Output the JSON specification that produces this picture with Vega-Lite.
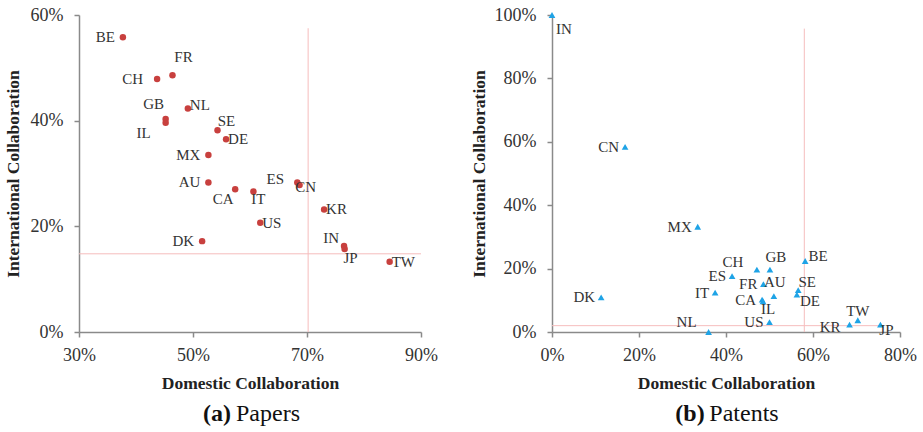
{
  "$schema": "https://vega.github.io/schema/vega-lite/v6.json",
  "padding": {"left": 4, "top": 6, "right": 2, "bottom": 2},
  "spacing": 32,
  "config": {
    "view": {"stroke": null},
    "font": "Liberation Serif, Times New Roman, serif",
    "axis": {"grid": false, "domainColor": "#8a8a8a", "domainWidth": 1.5, "tickColor": "#8a8a8a", "tickWidth": 1.5, "tickSize": 5, "labelFont": "Liberation Serif, Times New Roman, serif", "labelFontSize": 18, "labelColor": "#333333", "titleFont": "Liberation Serif, Times New Roman, serif", "titleFontSize": 17.5, "titleFontWeight": "bold", "titleColor": "#222222"},
    "axisX": {"labelPadding": 9, "titlePadding": 10, "labelFlush": false},
    "axisY": {"labelPadding": 11, "titlePadding": 8},
    "text": {"font": "Liberation Serif, Times New Roman, serif", "fontSize": 15, "color": "#333333", "baseline": "middle"}
  },
  "datasets": {
    "papers": [
      {"c": "BE", "x": 37.7, "y": 55.8},
      {"c": "FR", "x": 46.4, "y": 48.6},
      {"c": "CH", "x": 43.7, "y": 47.9},
      {"c": "NL", "x": 49.1, "y": 42.3},
      {"c": "GB", "x": 45.2, "y": 40.3},
      {"c": "IL", "x": 45.2, "y": 39.6},
      {"c": "SE", "x": 54.3, "y": 38.2},
      {"c": "DE", "x": 55.8, "y": 36.5},
      {"c": "MX", "x": 52.7, "y": 33.5},
      {"c": "AU", "x": 52.7, "y": 28.3},
      {"c": "CA", "x": 57.4, "y": 27.0},
      {"c": "IT", "x": 60.6, "y": 26.6},
      {"c": "ES", "x": 68.3, "y": 28.3},
      {"c": "CN", "x": 68.7, "y": 27.8},
      {"c": "KR", "x": 73.0, "y": 23.2},
      {"c": "US", "x": 61.8, "y": 20.7},
      {"c": "DK", "x": 51.6, "y": 17.2},
      {"c": "IN", "x": 76.5, "y": 16.3},
      {"c": "JP", "x": 76.6, "y": 15.7},
      {"c": "TW", "x": 84.5, "y": 13.3}
    ],
    "papersRef": [
      {"x": 70.2, "y": 0, "x2": 70.2, "y2": 57.5},
      {"x": 30, "y": 14.8, "x2": 90, "y2": 14.8}
    ],
    "patents": [
      {"c": "IN", "x": 0.0, "y": 100},
      {"c": "CN", "x": 16.8, "y": 58.4},
      {"c": "MX", "x": 33.5, "y": 33.2},
      {"c": "BE", "x": 58.2, "y": 22.4},
      {"c": "CH", "x": 47.1, "y": 19.7},
      {"c": "GB", "x": 50.1, "y": 19.7},
      {"c": "ES", "x": 41.4, "y": 17.6},
      {"c": "IT", "x": 37.5, "y": 12.4},
      {"c": "FR", "x": 48.6, "y": 15.1},
      {"c": "AU", "x": 51.0, "y": 11.3},
      {"c": "SE", "x": 56.6, "y": 13.2},
      {"c": "DE", "x": 56.3, "y": 11.8},
      {"c": "CA", "x": 48.3, "y": 10.2},
      {"c": "IL", "x": 48.5, "y": 9.7},
      {"c": "US", "x": 50.0, "y": 3.1},
      {"c": "DK", "x": 11.3, "y": 10.9},
      {"c": "NL", "x": 36.0, "y": 0.0},
      {"c": "KR", "x": 68.4, "y": 2.3},
      {"c": "TW", "x": 70.3, "y": 3.7},
      {"c": "JP", "x": 75.5, "y": 2.3}
    ],
    "patentsRef": [
      {"x": 58.0, "y": 0, "x2": 58.0, "y2": 95.7},
      {"x": 0, "y": 2.0, "x2": 75.5, "y2": 2.0}
    ]
  },
  "hconcat": [
    {
      "width": 342,
      "height": 317,
      "data": {"name": "papers"},
      "title": {"text": "(a)\u00a0\u00a0\u00a0\u00a0\u00a0\u00a0\u00a0\u00a0\u00a0\u00a0\u00a0\u200b", "subtitle": "\u200b\u00a0\u00a0\u00a0\u00a0\u00a0\u00a0Papers", "orient": "bottom", "anchor": "middle", "frame": "group", "font": "Liberation Serif, Times New Roman, serif", "fontSize": 24, "fontWeight": "bold", "color": "#111111", "subtitleFont": "Liberation Serif, Times New Roman, serif", "subtitleFontSize": 24, "subtitleFontWeight": "normal", "subtitleColor": "#111111", "subtitlePadding": -24, "offset": 10},
      "encoding": {
        "x": {"field": "x", "type": "quantitative", "scale": {"domain": [30, 90], "nice": false, "zero": false}, "axis": {"values": [30, 50, 70, 90], "labelExpr": "datum.value + '%'", "title": "Domestic Collaboration"}},
        "y": {"field": "y", "type": "quantitative", "scale": {"domain": [0, 60], "nice": false}, "axis": {"values": [0, 20, 40, 60], "labelExpr": "datum.value + '%'", "title": "International Collaboration"}}
      },
      "layer": [
        {"data": {"name": "papersRef"}, "mark": {"type": "rule", "color": "#F6BDBD", "strokeWidth": 1}, "encoding": {"x2": {"field": "x2"}, "y2": {"field": "y2"}}},
        {"mark": {"type": "circle", "size": 42, "color": "#C8403E", "opacity": 1}},
        {
          "encoding": {"text": {"field": "c"}},
          "layer": [
            {"transform": [{"filter": {"field": "c", "oneOf": ["BE", "MX", "AU", "DK"]}}], "mark": {"type": "text", "align": "right", "dx": -8}},
            {"transform": [{"filter": {"field": "c", "oneOf": ["CH"]}}], "mark": {"type": "text", "align": "right", "dx": -14}},
            {"transform": [{"filter": {"field": "c", "oneOf": ["KR", "US", "TW", "DE"]}}], "mark": {"type": "text", "align": "left", "dx": 2}},
            {"transform": [{"filter": {"field": "c", "oneOf": ["NL"]}}], "mark": {"type": "text", "align": "left", "dx": 2, "dy": -4}},
            {"transform": [{"filter": {"field": "c", "oneOf": ["FR"]}}], "mark": {"type": "text", "align": "center", "dx": 11, "dy": -18}},
            {"transform": [{"filter": {"field": "c", "oneOf": ["GB"]}}], "mark": {"type": "text", "align": "center", "dx": -12, "dy": -15}},
            {"transform": [{"filter": {"field": "c", "oneOf": ["IL"]}}], "mark": {"type": "text", "align": "center", "dx": -22, "dy": 10}},
            {"transform": [{"filter": {"field": "c", "oneOf": ["SE"]}}], "mark": {"type": "text", "align": "center", "dx": 9, "dy": -9}},
            {"transform": [{"filter": {"field": "c", "oneOf": ["CA"]}}], "mark": {"type": "text", "align": "center", "dx": -12, "dy": 10}},
            {"transform": [{"filter": {"field": "c", "oneOf": ["IT"]}}], "mark": {"type": "text", "align": "center", "dx": 5, "dy": 8}},
            {"transform": [{"filter": {"field": "c", "oneOf": ["ES"]}}], "mark": {"type": "text", "align": "center", "dx": -22, "dy": -3}},
            {"transform": [{"filter": {"field": "c", "oneOf": ["CN"]}}], "mark": {"type": "text", "align": "center", "dx": 6, "dy": 2}},
            {"transform": [{"filter": {"field": "c", "oneOf": ["IN"]}}], "mark": {"type": "text", "align": "center", "dx": -13, "dy": -8}},
            {"transform": [{"filter": {"field": "c", "oneOf": ["JP"]}}], "mark": {"type": "text", "align": "center", "dx": 6, "dy": 9}}
          ]
        }
      ]
    },
    {
      "width": 348,
      "height": 317,
      "data": {"name": "patents"},
      "title": {"text": "(b)\u00a0\u00a0\u00a0\u00a0\u00a0\u00a0\u00a0\u00a0\u00a0\u00a0\u00a0\u00a0\u200b", "subtitle": "\u200b\u00a0\u00a0\u00a0\u00a0\u00a0\u00a0Patents", "orient": "bottom", "anchor": "middle", "frame": "group", "font": "Liberation Serif, Times New Roman, serif", "fontSize": 24, "fontWeight": "bold", "color": "#111111", "subtitleFont": "Liberation Serif, Times New Roman, serif", "subtitleFontSize": 24, "subtitleFontWeight": "normal", "subtitleColor": "#111111", "subtitlePadding": -24, "offset": 10},
      "encoding": {
        "x": {"field": "x", "type": "quantitative", "scale": {"domain": [0, 80], "nice": false}, "axis": {"values": [0, 20, 40, 60, 80], "labelExpr": "datum.value + '%'", "title": "Domestic Collaboration"}},
        "y": {"field": "y", "type": "quantitative", "scale": {"domain": [0, 100], "nice": false}, "axis": {"values": [0, 20, 40, 60, 80, 100], "labelExpr": "datum.value + '%'", "title": "International Collaboration", "labelPadding": 11, "titlePadding": 6}}
      },
      "layer": [
        {"data": {"name": "patentsRef"}, "mark": {"type": "rule", "color": "#F6BDBD", "strokeWidth": 1}, "encoding": {"x2": {"field": "x2"}, "y2": {"field": "y2"}}},
        {"mark": {"type": "point", "shape": "triangle-up", "size": 45, "filled": true, "color": "#1EA3E6", "opacity": 1}},
        {
          "encoding": {"text": {"field": "c"}},
          "layer": [
            {"transform": [{"filter": {"field": "c", "oneOf": ["CN", "MX", "ES", "IT", "FR", "CA", "US", "DK"]}}], "mark": {"type": "text", "align": "right", "dx": -6}},
            {"transform": [{"filter": {"field": "c", "oneOf": ["KR"]}}], "mark": {"type": "text", "align": "right", "dx": -9, "dy": 2}},
            {"transform": [{"filter": {"field": "c", "oneOf": ["IN"]}}], "mark": {"type": "text", "align": "center", "dx": 12, "dy": 14}},
            {"transform": [{"filter": {"field": "c", "oneOf": ["BE"]}}], "mark": {"type": "text", "align": "center", "dx": 13, "dy": -5}},
            {"transform": [{"filter": {"field": "c", "oneOf": ["CH"]}}], "mark": {"type": "text", "align": "center", "dx": -24, "dy": -8}},
            {"transform": [{"filter": {"field": "c", "oneOf": ["GB"]}}], "mark": {"type": "text", "align": "center", "dx": 6, "dy": -13}},
            {"transform": [{"filter": {"field": "c", "oneOf": ["AU"]}}], "mark": {"type": "text", "align": "center", "dx": 1, "dy": -14}},
            {"transform": [{"filter": {"field": "c", "oneOf": ["SE"]}}], "mark": {"type": "text", "align": "center", "dx": 9, "dy": -8}},
            {"transform": [{"filter": {"field": "c", "oneOf": ["DE"]}}], "mark": {"type": "text", "align": "center", "dx": 13, "dy": 6}},
            {"transform": [{"filter": {"field": "c", "oneOf": ["IL"]}}], "mark": {"type": "text", "align": "center", "dx": 5, "dy": 8}},
            {"transform": [{"filter": {"field": "c", "oneOf": ["NL"]}}], "mark": {"type": "text", "align": "center", "dx": -22, "dy": -10}},
            {"transform": [{"filter": {"field": "c", "oneOf": ["TW"]}}], "mark": {"type": "text", "align": "center", "dx": 0, "dy": -9}},
            {"transform": [{"filter": {"field": "c", "oneOf": ["JP"]}}], "mark": {"type": "text", "align": "center", "dx": 6, "dy": 5}}
          ]
        }
      ]
    }
  ]
}
